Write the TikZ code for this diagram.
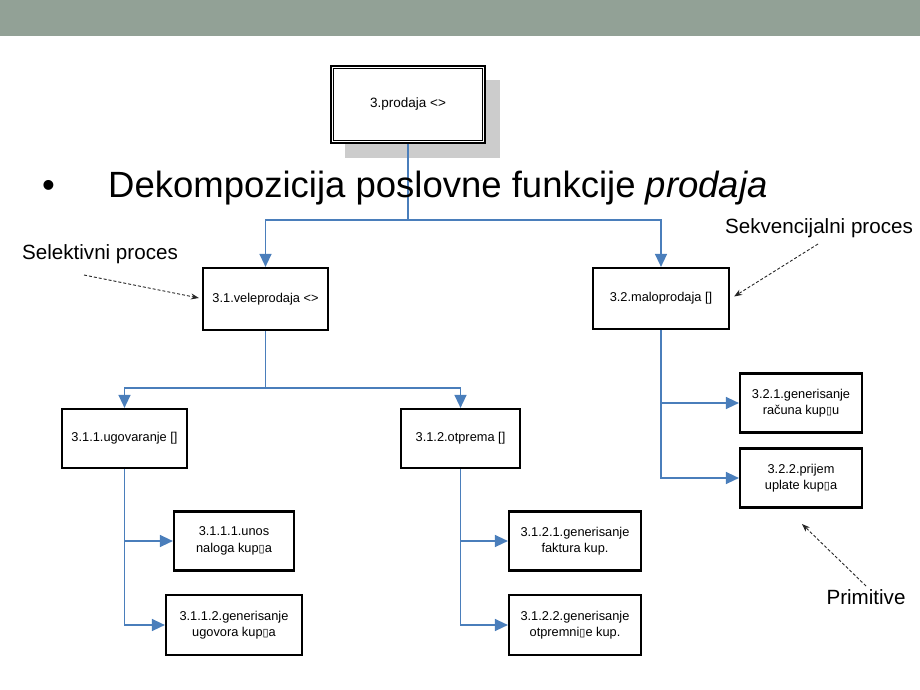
\documentclass[tikz,border=0pt]{standalone}
\usepackage{fontspec}
\setmainfont{Liberation Sans}
\newfontfamily\glyphfont{DejaVu Sans}
\usetikzlibrary{arrows.meta,calc}
\definecolor{headbar}{RGB}{146,161,150}
\definecolor{linkblue}{RGB}{74,126,187}
\definecolor{shadowgray}{RGB}{204,204,204}
\newcommand\mglyph{{\glyphfont\fontsize{11}{12}\selectfont ▯}}
\begin{document}
\begin{tikzpicture}[x=1pt,y=-1pt,
  fn/.style={draw,line width=2.2pt,fill=white,align=center,inner sep=0pt,
    font=\fontsize{12.8}{16.5}\selectfont},
  link/.style={draw=linkblue,line width=1.4pt,-{Triangle[length=13pt,width=12pt]}},
  note/.style={draw=black!85,line width=0.9pt,dash pattern=on 3pt off 2pt,
    -{Stealth[length=8pt,width=6pt]}},
  notetext/.style={font=\fontsize{20.6}{24}\selectfont,inner sep=0pt}]
\useasboundingbox (0,0) rectangle (920,690);
% header band
\fill[headbar] (0,0) rectangle (920,36);

% root function with shadow and double frame
\fill[shadowgray] (345,80) rectangle (500,158);
\node[fn,minimum width=154pt,minimum height=77pt,font=\fontsize{13.5}{16}\selectfont] (top) at (408,104.5) {3.prodaja <>};
\draw[line width=0.9pt] ($(top.north west)+(4,4)$) rectangle ($(top.south east)+(-4,-4)$);

% split points of the tree
\coordinate (s0) at (408,220);
\coordinate (s1) at (265.5,388);

% subfunctions
\node[fn,minimum width=125pt,minimum height=62pt] (v1) at (265.5,299) {3.1.veleprodaja <>};
\node[fn,minimum width=136pt,minimum height=61pt] (m1) at (661,298.5) {3.2.maloprodaja []};
\node[fn,minimum width=125pt,minimum height=59pt] (u1) at (124.5,438.5) {3.1.1.ugovaranje []};
\node[fn,minimum width=119pt,minimum height=59pt] (o1) at (460.5,438.5) {3.1.2.otprema []};
\node[fn,minimum width=120pt,minimum height=59pt] (u11) at (234,541) {3.1.1.1.unos\\naloga kup\mglyph a};
\node[fn,minimum width=136pt,minimum height=60pt] (u12) at (234,625) {3.1.1.2.generisanje\\ugovora kup\mglyph a};
\node[fn,minimum width=132pt,minimum height=59pt] (o11) at (575,541) {3.1.2.1.generisanje\\faktura kup.};
\node[fn,minimum width=132pt,minimum height=60pt] (o12) at (575,625) {3.1.2.2.generisanje\\otpremni\mglyph e kup.};
\node[fn,minimum width=122pt,minimum height=59pt] (r1) at (801,403) {3.2.1.generisanje\\računa kup\mglyph u};
\node[fn,minimum width=122pt,minimum height=59pt] (r2) at (801,478) {3.2.2.prijem\\uplate kup\mglyph a};

% first level
\draw[link] (top.south) -- (s0) -| (v1.north);
\draw[link] (s0) -| (m1.north);

% second level
\draw[link] (v1.south) -- (s1) -| (u1.north);
\draw[link] (s1) -| (o1.north);

% sequences of primitives
\draw[link] (u1.south) |- (u11.west);
\draw[link] (u1.south) |- (u12.west);
\draw[link] (o1.south) |- (o11.west);
\draw[link] (o1.south) |- (o12.west);
\draw[link] (m1.south) |- (r1.west);
\draw[link] (m1.south) |- (r2.west);

% slide title
\node[anchor=base west,inner sep=0pt,font=\fontsize{36.5}{40}\selectfont] (bullet) at (42,197) {•};
\node[anchor=base west,inner sep=0pt,font=\fontsize{36.5}{40}\selectfont] (title) at (108,197)
  {Dekompozicija poslovne funkcije \textit{prodaja}};

% annotations
\node[notetext] (sel) at (100,254) {Selektivni proces};
\node[notetext] (sek) at (819,228) {Sekvencijalni proces};
\node[notetext] (prim) at (866,597) {Primitive};
\coordinate (selfrom) at (84,275);
\coordinate (sekfrom) at (818,244);
\coordinate (primfrom) at (866,586);
\coordinate (primto) at (802,524);
\draw[note] (selfrom) -- ($(v1.west)+(-3,-1)$);
\draw[note] (sekfrom) -- ($(m1.east)+(4,-2)$);
\draw[note] (primfrom) -- (primto);
\end{tikzpicture}
\end{document}
